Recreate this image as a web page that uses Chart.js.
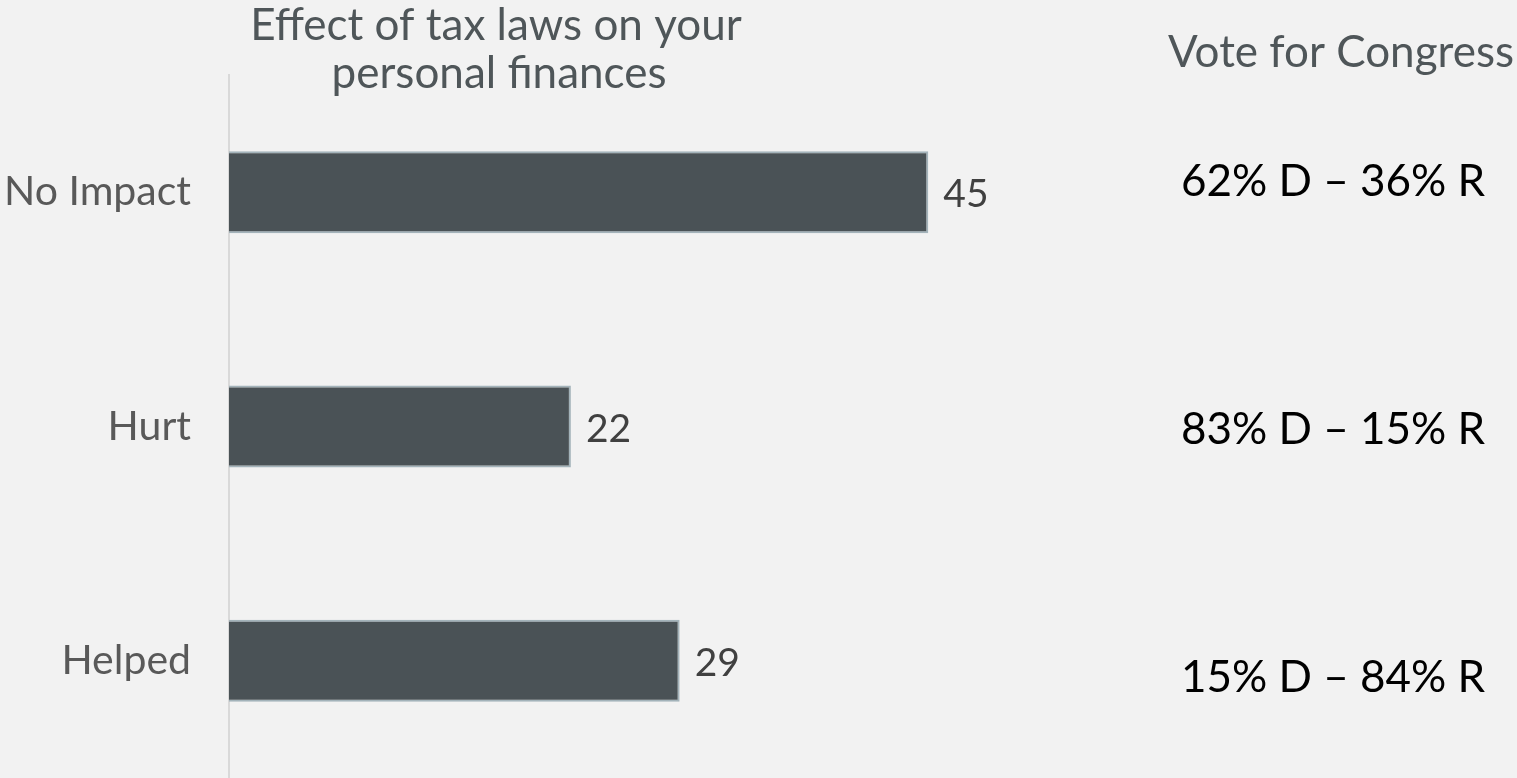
<!DOCTYPE html>
<html>
<head>
<meta charset="utf-8">
<script src="https://cdn.jsdelivr.net/npm/chart.js@4.4.1/dist/chart.umd.min.js"></script>
<style>
  body { margin: 0; background: #f2f2f2; }
  #wrap { width: 1517px; height: 778px; }
</style>
</head>
<body>
<div id="wrap"><canvas id="taxChart" width="1517" height="778"></canvas></div>
<script>
const categories = ["No Impact", "Hurt", "Helped"];
const effectValues = [45, 22, 29];
const voteSplits = ["62% D \u2013 36% R", "83% D \u2013 15% R", "15% D \u2013 84% R"];
const titleLines = ["Effect of tax laws on your", "personal finances"];
const sideTitle = "Vote for Congress";

const FONT = "Lato, 'Open Sans', sans-serif";

// numbers at the end of each bar
const valueLabels = {
  id: "valueLabels",
  afterDatasetsDraw(chart) {
    const ctx = chart.ctx;
    const meta = chart.getDatasetMeta(0);
    ctx.save();
    ctx.font = "39px " + FONT;
    ctx.fillStyle = "#404040";
    ctx.textAlign = "left";
    ctx.textBaseline = "alphabetic";
    meta.data.forEach((bar, i) => {
      ctx.fillText(effectValues[i], bar.x + 15, bar.y + 15);
    });
    ctx.restore();
  },
};

// headings and the vote column on the right
const sideText = {
  id: "sideText",
  afterDraw(chart) {
    const ctx = chart.ctx;
    ctx.save();
    ctx.textBaseline = "alphabetic";

    ctx.textAlign = "center";
    ctx.font = "44px " + FONT;
    ctx.fillStyle = "#4f5659";
    ctx.fillText(titleLines[0], 496, 40);
    ctx.fillText(titleLines[1], 499, 88);

    ctx.textAlign = "right";
    ctx.fillText(sideTitle, 1514, 67);

    // vote rows are spaced a little wider than the bars
    ctx.textAlign = "center";
    ctx.font = "44px " + FONT;
    ctx.fillStyle = "#000000";
    const rowY = [196, 444, 692];
    voteSplits.forEach((txt, i) => {
      ctx.fillText(txt, 1333, rowY[i]);
    });
    ctx.restore();
  },
};

new Chart(document.getElementById("taxChart"), {
  type: "bar",
  data: {
    labels: categories,
    datasets: [
      {
        data: effectValues,
        backgroundColor: "#4a5256",
        borderColor: "#a3b3ba",
        borderWidth: 2,
        barPercentage: 0.35,
        categoryPercentage: 1,
      },
    ],
  },
  options: {
    indexAxis: "y",
    responsive: false,
    animation: false,
    layout: { padding: { top: 75, right: 511, bottom: 0, left: 0 } },
    plugins: {
      legend: { display: false },
      tooltip: { enabled: false },
    },
    scales: {
      x: { display: false, min: 0, max: 50 },
      y: {
        grid: { display: false, drawTicks: false },
        border: { display: true, color: "#d9d9d9", width: 2 },
        ticks: {
          color: "#595959",
          font: { size: 41, family: FONT },
          padding: 38,
        },
        afterFit(scale) {
          scale.width = 229;
          scale.paddingTop = 0;
          scale.paddingBottom = 0;
        },
      },
    },
  },
  plugins: [valueLabels, sideText],
});
</script>
</body>
</html>
